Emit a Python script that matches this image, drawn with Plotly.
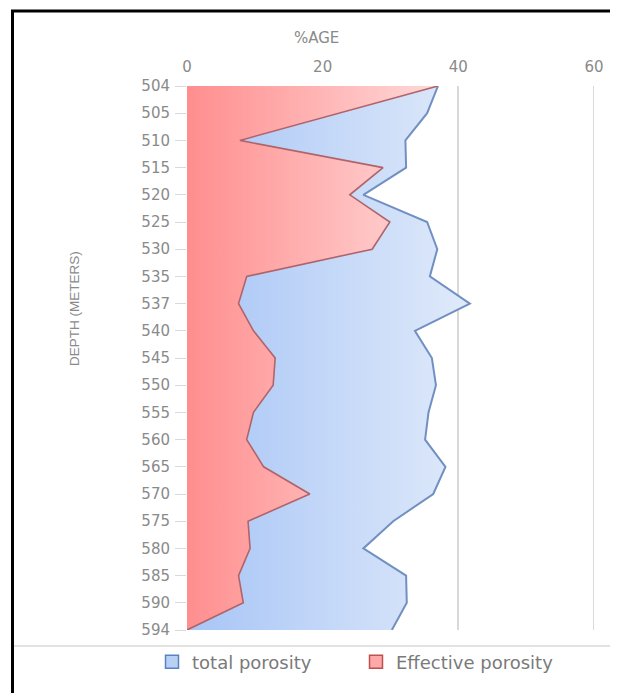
import plotly.graph_objects as go

depths = ["504", "505", "510", "515", "520", "525", "530", "535", "537", "540",
          "545", "550", "555", "560", "565", "570", "575", "580", "585", "590", "594"]
total_porosity = [37, 35.4, 32.2, 32.3, 26, 35.4, 36.9, 35.8, 41.7, 33.6,
                  36.1, 36.7, 35.6, 35.1, 38.1, 36.3, 30.4, 26, 32.3, 32.4, 30.2]
effective_porosity = [37, 22.5, 7.8, 28.9, 24, 29.9, 27.3, 8.8, 7.6, 9.8,
                      13, 12.7, 9.8, 8.8, 11.3, 18.1, 9, 9.3, 7.6, 8.3, 0]
x_ticks = [0, 20, 40, 60]

OFF = 8                 # browser body margin
W, H = 618 - OFF, 693 - OFF
L, R = 187, 594         # page pixel x of 0 and 60
T, B = 86, 630          # page pixel y of first and last category


def px(p):
    return (p - L) / (R - L)


def py(p):
    return (B - p) / (B - T)


font = "'DejaVu Sans', sans-serif"
grey = "#8a8a8a"

fig = go.Figure()
fig.add_trace(go.Scatter(
    x=total_porosity, y=depths, mode="lines", fill="tozerox",
    line=dict(color="#7190c2", width=2),
    fillgradient=dict(type="horizontal",
                      colorscale=[[0, "#a7c5f6"], [1, "#e0eafa"]]),
    showlegend=False, name="total porosity"))
fig.add_trace(go.Scatter(
    x=effective_porosity, y=depths, mode="lines", fill="tozerox",
    line=dict(color="#b0646a", width=1.6),
    fillgradient=dict(type="horizontal",
                      colorscale=[[0, "#ff8e8e"], [1, "#ffd8d8"]]),
    showlegend=False, name="Effective porosity"))

# legend proxies
fig.add_trace(go.Scatter(x=[None], y=[None], mode="markers", name="total porosity",
                         legend="legend",
                         marker=dict(symbol="square", size=13, color="#b9d0f5",
                                     line=dict(color="#5b82c0", width=1.5))))
fig.add_trace(go.Scatter(x=[None], y=[None], mode="markers", name="Effective porosity",
                         legend="legend2",
                         marker=dict(symbol="square", size=13, color="#ffa8a8",
                                     line=dict(color="#c0504d", width=1.5))))

legend_common = dict(yanchor="middle", y=py(662), xanchor="left",
                     font=dict(size=18, color="#7a7a7a", family=font),
                     bgcolor="rgba(0,0,0,0)", itemwidth=30)

fig.update_layout(
    width=W, height=H,
    margin=dict(l=L - OFF, r=W - (R - OFF), t=T - OFF, b=H - (B - OFF)),
    paper_bgcolor="white", plot_bgcolor="white",
    font=dict(family=font, color=grey, size=15),
    xaxis=dict(side="top", range=[0, 60], tickvals=x_ticks,
               showgrid=True, gridcolor="#d9d9d9", gridwidth=2,
               zeroline=False, showline=False, ticks="",
               ticklabelstandoff=10,
               tickfont=dict(size=15, color=grey)),
    yaxis=dict(type="category", categoryorder="array", categoryarray=depths,
               range=[len(depths) - 1, 0], showgrid=False, zeroline=False,
               showline=False, ticks="outside", ticklen=11, tickcolor="#d9d9d9",
               tickwidth=1, ticklabelstandoff=2,
               tickfont=dict(size=15, color=grey)),
    legend=dict(x=px(152), **legend_common),
    legend2=dict(x=px(356), **legend_common),
    shapes=[
        dict(type="line", xref="x", yref="paper", x0=60, x1=60, y0=0, y1=1,
             line=dict(color="#d9d9d9", width=2), layer="below"),
        dict(type="line", xref="paper", yref="paper", x0=px(12), x1=px(612),
             y0=py(646), y1=py(646), line=dict(color="#d9d9d9", width=1.5)),
        dict(type="rect", xref="paper", yref="paper", x0=px(12.5), x1=px(613.5),
             y0=py(11), y1=py(720), line=dict(color="black", width=3),
             fillcolor="rgba(0,0,0,0)"),
    ],
    annotations=[
        dict(text="%AGE", xref="paper", yref="paper", x=px(316), y=py(38),
             showarrow=False, xanchor="center", yanchor="middle",
             font=dict(size=15, color=grey)),
        dict(text="DEPTH (METERS)", textangle=-90, xref="paper", yref="paper",
             x=px(74), y=py(308), showarrow=False, xanchor="center", yanchor="middle",
             font=dict(size=13.5, color=grey, family="'Liberation Sans', sans-serif")),
    ],
)

fig.write_html("out.html")
